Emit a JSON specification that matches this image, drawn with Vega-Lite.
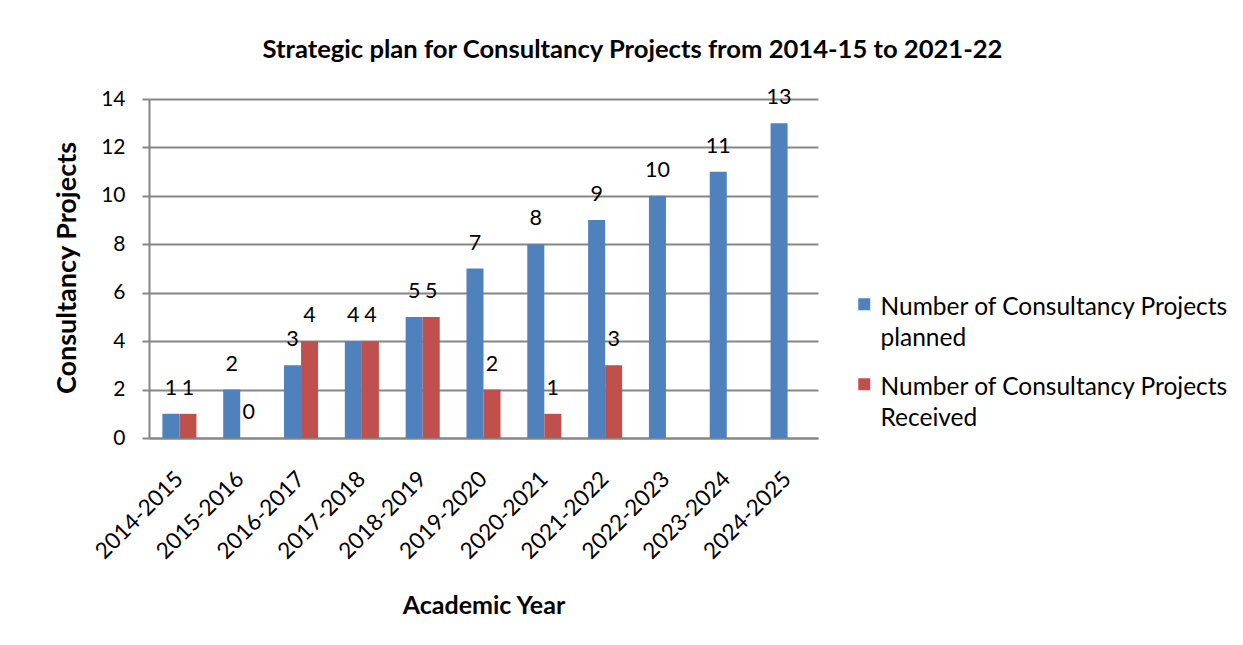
{
  "$schema": "https://vega.github.io/schema/vega-lite/v6.json",
  "width": 669,
  "height": 339,
  "autosize": {"type": "none"},
  "padding": {"left": 149, "top": 99, "right": 425, "bottom": 207},
  "background": "white",
  "config": {
    "view": {"stroke": null},
    "font": "Lato",
    "text": {"font": "Lato"}
  },
  "title": {
    "text": "Strategic plan for Consultancy Projects from 2014-15 to 2021-22",
    "font": "Lato",
    "fontSize": 25.6,
    "fontWeight": "bold",
    "color": "black",
    "anchor": "middle",
    "frame": "group",
    "dx": 149,
    "offset": 24
  },
  "data": {
    "values": [
      {"Year": "2014-2015", "Series": "Number of Consultancy Projects planned", "Value": 1},
      {"Year": "2014-2015", "Series": "Number of Consultancy Projects Received", "Value": 1},
      {"Year": "2015-2016", "Series": "Number of Consultancy Projects planned", "Value": 2},
      {"Year": "2015-2016", "Series": "Number of Consultancy Projects Received", "Value": 0},
      {"Year": "2016-2017", "Series": "Number of Consultancy Projects planned", "Value": 3},
      {"Year": "2016-2017", "Series": "Number of Consultancy Projects Received", "Value": 4},
      {"Year": "2017-2018", "Series": "Number of Consultancy Projects planned", "Value": 4},
      {"Year": "2017-2018", "Series": "Number of Consultancy Projects Received", "Value": 4},
      {"Year": "2018-2019", "Series": "Number of Consultancy Projects planned", "Value": 5},
      {"Year": "2018-2019", "Series": "Number of Consultancy Projects Received", "Value": 5},
      {"Year": "2019-2020", "Series": "Number of Consultancy Projects planned", "Value": 7},
      {"Year": "2019-2020", "Series": "Number of Consultancy Projects Received", "Value": 2},
      {"Year": "2020-2021", "Series": "Number of Consultancy Projects planned", "Value": 8},
      {"Year": "2020-2021", "Series": "Number of Consultancy Projects Received", "Value": 1},
      {"Year": "2021-2022", "Series": "Number of Consultancy Projects planned", "Value": 9},
      {"Year": "2021-2022", "Series": "Number of Consultancy Projects Received", "Value": 3},
      {"Year": "2022-2023", "Series": "Number of Consultancy Projects planned", "Value": 10},
      {"Year": "2023-2024", "Series": "Number of Consultancy Projects planned", "Value": 11},
      {"Year": "2024-2025", "Series": "Number of Consultancy Projects planned", "Value": 13}
    ]
  },
  "encoding": {
    "x": {
      "field": "Year",
      "type": "nominal",
      "sort": null,
      "scale": {"paddingInner": 0.44, "paddingOuter": 0.22},
      "axis": {
        "title": "Academic Year",
        "titleFont": "Lato",
        "titleFontSize": 25,
        "titleFontWeight": "bold",
        "titleColor": "black",
        "titleBaseline": "alphabetic",
        "titleY": 175,
        "labelAngle": -45,
        "labelAlign": "right",
        "labelBaseline": "middle",
        "labelPadding": 37,
        "labelFont": "Lato",
        "labelFontSize": 22.5,
        "labelColor": "black",
        "ticks": false,
        "domainColor": "#868686",
        "domainWidth": 2
      }
    },
    "xOffset": {"field": "Series", "type": "nominal", "sort": null},
    "y": {
      "field": "Value",
      "type": "quantitative",
      "scale": {"domain": [0, 14], "nice": false},
      "axis": {
        "title": "Consultancy Projects",
        "titleFont": "Lato",
        "titleFontSize": 27,
        "titleFontWeight": "bold",
        "titleColor": "black",
        "titleAngle": -90,
        "titleBaseline": "alphabetic",
        "titleX": -74,
        "titleY": 168.5,
        "titleAlign": "center",
        "values": [0, 2, 4, 6, 8, 10, 12, 14],
        "labelFont": "Lato",
        "labelFontSize": 21,
        "labelColor": "black",
        "labelPadding": 17,
        "tickSize": 7,
        "tickColor": "#868686",
        "tickWidth": 2,
        "domainColor": "#868686",
        "domainWidth": 2,
        "gridColor": "#868686",
        "gridWidth": 2
      }
    }
  },
  "layer": [
    {
      "mark": {"type": "bar"},
      "encoding": {
        "color": {
          "field": "Series",
          "type": "nominal",
          "sort": null,
          "scale": {"range": ["#4F81BD", "#C0504D"]},
          "legend": {
            "title": null,
            "orient": "none",
            "legendX": 703,
            "legendY": 193,
            "symbolType": "square",
            "symbolSize": 144,
            "symbolStrokeWidth": 0,
            "labelFont": "Lato",
            "labelFontSize": 24.5,
            "labelColor": "black",
            "labelLimit": 400,
            "labelOffset": 4,
            "rowPadding": 21,
            "labelExpr": "datum.label == 'Number of Consultancy Projects planned' ? ['Number of Consultancy Projects', 'planned'] : ['Number of Consultancy Projects', 'Received']",
            "labelBaseline": "top",
            "encode": {
              "labels": {"update": {"lineHeight": {"value": 31}, "dy": {"value": -8}}}
            }
          }
        }
      }
    },
    {
      "mark": {"type": "text", "baseline": "alphabetic", "dy": -19, "font": "Lato", "fontSize": 21.5, "color": "black"},
      "encoding": {
        "text": {"field": "Value", "type": "quantitative"}
      }
    }
  ]
}
